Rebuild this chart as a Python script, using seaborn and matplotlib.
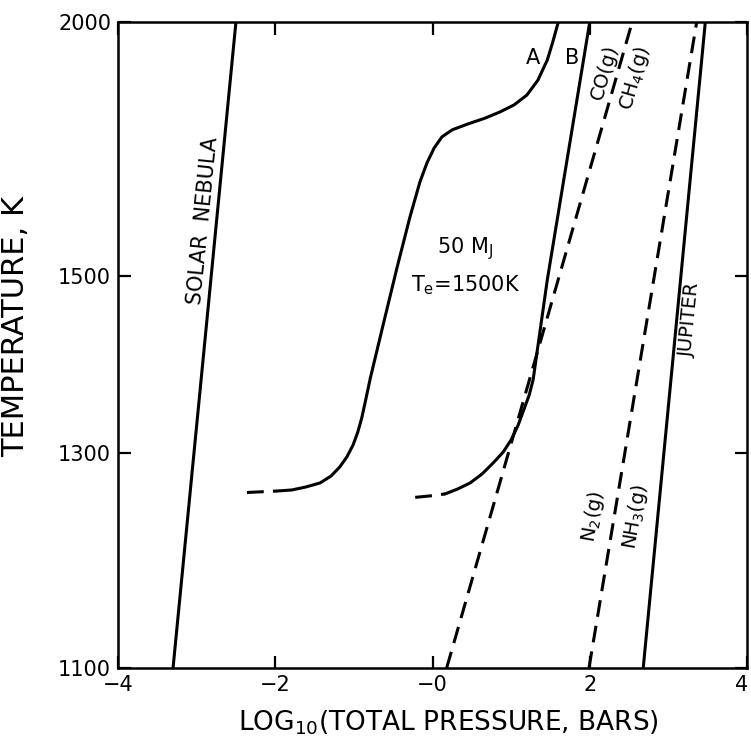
import numpy as np
import pandas as pd
import matplotlib
matplotlib.use("Agg")
import matplotlib.pyplot as plt
import matplotlib.transforms as mtransforms
import seaborn as sns

# ---------------- data ----------------
# temperature axis ticks (K) and their relative height on the axis
t_ticks = [1100, 1300, 1500, 2000]
t_tick_frac = [0.0, 0.3328, 0.6068, 1.0]
x_ticks = [-4, -2, 0, 2, 4]
x_ticklabels = ["\u22124", "\u22122", "\u22120", "2", "4"]

solar_x = [-3.30, -2.50]
solar_T = [1100, 2000]

jupiter_x = [2.68, 3.47]
jupiter_T = [1100, 2000]

n2_x = [1.99, 3.36]
n2_T = [1100, 2000]

co_x = [0.18, 2.54]
co_T = [1100, 2000]

a_dash_x = [-2.36, -1.98]
a_dash_T = [1258, 1259.5]
a_x = [-1.98, -1.79, -1.61, -1.43, -1.29, -1.18, -1.09, -1.01, -0.95, -0.90,
       -0.85, -0.79, -0.62, -0.45, -0.29, -0.16, -0.07, 0.02, 0.12, 0.25,
       0.45, 0.67, 0.86, 1.04, 1.20, 1.34, 1.46, 1.53, 1.60]
a_T = [1259.5, 1260.6, 1263.7, 1267.9, 1275.2, 1284.8, 1295.6, 1307.9, 1320.9,
       1335.2, 1354.1, 1378, 1442, 1513, 1591, 1653, 1688, 1716, 1738, 1752,
       1764, 1776, 1789, 1804, 1825, 1858, 1905, 1949, 2000]

b_dash_x = [-0.22, -0.03, 0.16]
b_dash_T = [1253, 1254.5, 1256.5]
b_x = [0.16, 0.32, 0.48, 0.63, 0.77, 0.90, 1.00, 1.09, 1.16, 1.23, 1.28,
       1.46, 2.00]
b_T = [1256.5, 1261.6, 1268, 1277.3, 1289, 1301, 1313, 1328, 1343.5, 1359.4,
       1376, 1495, 2000]

# ---------------- figure ----------------
sns.set_style("ticks")
plt.rcParams["font.family"] = ["DejaVu Sans"]
plt.rcParams["mathtext.default"] = "regular"
plt.rcParams["text.color"] = "black"
plt.rcParams["axes.labelcolor"] = "black"

fig = plt.figure(figsize=(7.51, 7.53), dpi=100)
ax = fig.add_axes([118 / 751, 1 - 668 / 753, 629 / 751, 646 / 753])

inv_t = -1.0 / np.array(t_ticks, dtype=float)
frac = np.array(t_tick_frac)


def fwd(T):
    T = np.asarray(T, dtype=float)
    with np.errstate(divide="ignore", invalid="ignore"):
        v = -1.0 / np.where(T == 0, 1e-9, T)
    return np.interp(v, inv_t, frac)


def inv(u):
    u = np.asarray(u, dtype=float)
    v = np.interp(u, frac, inv_t)
    return -1.0 / v


ax.set_yscale("function", functions=(fwd, inv))

lw = 2.2
dash = (5.5, 3.0)


def draw(x, y, dashed=False):
    df = pd.DataFrame({"x": x, "T": y})
    sns.lineplot(data=df, x="x", y="T", ax=ax, color="black", lw=lw,
                 estimator=None, sort=False, legend=False)
    line = ax.get_lines()[-1]
    line.set_solid_capstyle("round")
    line.set_solid_joinstyle("round")
    if dashed:
        line.set_dashes(dash)
        line.set_dash_capstyle("butt")


draw(solar_x, solar_T)
draw(jupiter_x, jupiter_T)
draw(n2_x, n2_T, dashed=True)
draw(co_x, co_T, dashed=True)
draw(a_dash_x, a_dash_T, dashed=True)
draw(a_x, a_T)
draw(b_dash_x, b_dash_T, dashed=True)
draw(b_x, b_T)

ax.set_xlim(-4, 4)
ax.set_ylim(1100, 2000)
ax.set_xticks(x_ticks)
ax.set_xticklabels(x_ticklabels)
ax.set_yticks(t_ticks)
ax.set_yticklabels([str(t) for t in t_ticks])
ax.minorticks_off()
ax.tick_params(direction="in", length=9, width=1.6, top=True, right=True,
               labelsize=15, colors="black", pad=5)
for s in ax.spines.values():
    s.set_linewidth(1.8)
    s.set_color("black")

# keep the last x tick label inside the canvas
last = ax.get_xticklabels()[-1]
last.set_transform(last.get_transform() +
                   mtransforms.ScaledTranslation(-5 / 100, 0, fig.dpi_scale_trans))

ax.set_xlabel("LOG$_{10}$(TOTAL PRESSURE, BARS)", fontsize=19, color="black")
ax.set_ylabel("TEMPERATURE, K", fontsize=22, color="black")
ax.xaxis.set_label_coords(0.525, -0.062)
ax.yaxis.set_label_coords(-0.14, 0.528)

tk = dict(transform=ax.transAxes, ha="center", va="center",
          rotation_mode="anchor", color="black")
ax.text(0.135, 0.693, "SOLAR  NEBULA", rotation=84.4, fontsize=15, **tk)
ax.text(0.552, 0.650, "50 M$_J$", fontsize=15, **tk)
ax.text(0.553, 0.593, "T$_e$=1500K", fontsize=15, **tk)
ax.text(0.660, 0.944, "A", fontsize=15, **tk)
ax.text(0.722, 0.944, "B", fontsize=15, **tk)
ax.text(0.774, 0.923, "CO(g)", rotation=74, fontsize=14, **tk)
ax.text(0.822, 0.913, "CH$_4$(g)", rotation=74, fontsize=14, **tk)
ax.text(0.755, 0.234, "N$_2$(g)", rotation=80, fontsize=14, **tk)
ax.text(0.822, 0.234, "NH$_3$(g)", rotation=80, fontsize=14, **tk)
ax.text(0.909, 0.539, "JUPITER", rotation=84.5, fontsize=14, **tk)

fig.savefig("out.png", dpi=100)
